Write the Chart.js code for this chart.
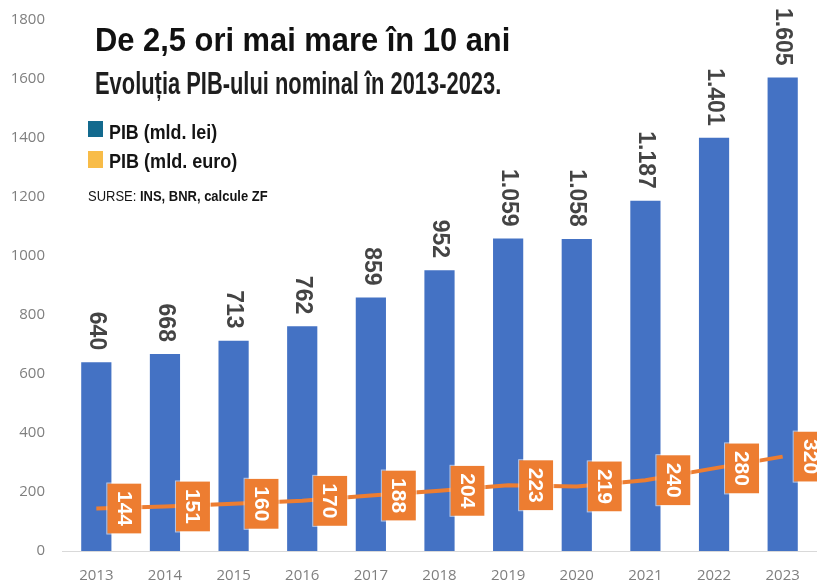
<!DOCTYPE html>
<html><head><meta charset="utf-8">
<script src="https://cdn.jsdelivr.net/npm/chart.js@4.4.1/dist/chart.umd.min.js"></script>
<style>
html,body{margin:0;padding:0;background:#fff;}
#wrap{position:relative;width:817px;height:584px;overflow:hidden;}
canvas{position:absolute;left:0;top:0;}
.t{position:absolute;white-space:nowrap;line-height:1;transform-origin:0 0;font-family:"Liberation Sans",Arial,sans-serif;color:#141414;display:inline-block;}
.sq{position:absolute;width:15px;height:16px;}
</style></head><body>
<div id="wrap">
<canvas id="c" width="817" height="584"></canvas>
<div class="t fit" data-w="415" style="left:95px;top:22px;font-size:34px;font-weight:bold;color:#111;">De 2,5 ori mai mare în 10 ani</div>
<div class="t fit" data-w="406" style="left:95px;top:68px;font-size:31px;font-weight:bold;color:#1e1e1e;">Evoluția PIB-ului nominal în 2013-2023.</div>
<div class="sq" style="left:88px;top:121px;background:#136A8E;"></div>
<div class="t fit" data-w="108" style="left:109px;top:121px;font-size:21px;font-weight:bold;">PIB (mld. lei)</div>
<div class="sq" style="left:88px;top:151px;background:#F8BC48;height:17px;"></div>
<div class="t fit" data-w="128" style="left:109px;top:150px;font-size:21px;font-weight:bold;">PIB (mld. euro)</div>
<div class="t fit" data-w="180" style="left:88px;top:188px;font-size:15px;font-weight:bold;"><span style="font-weight:normal">SURSE:</span> INS, BNR, calcule ZF</div>
</div>
<script>
const years = ['2013','2014','2015','2016','2017','2018','2019','2020','2021','2022','2023'];
const pibLei = [640, 668, 713, 762, 859, 952, 1059, 1058, 1187, 1401, 1605];
const pibEuro = [144, 151, 160, 170, 188, 204, 223, 219, 240, 280, 320];
const yMin = 0, yMax = 1800, yStep = 200;

function fmt(n){
  return n >= 1000 ? Math.floor(n/1000) + '.' + String(n % 1000).padStart(3,'0') : String(n);
}

const labelPlugin = {
  id: 'valueLabels',
  afterDatasetsDraw(chart){
    const ctx = chart.ctx;
    ctx.save();
    const barMeta = chart.getDatasetMeta(0);
    barMeta.data.forEach((bar, i) => {
      ctx.save();
      ctx.translate(bar.x, bar.y - 12);
      ctx.rotate(Math.PI/2);
      ctx.font = 'bold 23px "Liberation Sans", Arial, sans-serif';
      ctx.fillStyle = '#444444';
      ctx.textAlign = 'right';
      ctx.textBaseline = 'middle';
      ctx.fillText(fmt(pibLei[i]), 0, 0);
      ctx.restore();
    });
    const lineMeta = chart.getDatasetMeta(1);
    lineMeta.data.forEach((pt, i) => {
      ctx.save();
      ctx.translate(pt.x + 28, pt.y);
      ctx.rotate(Math.PI/2);
      ctx.fillStyle = '#ED7D31';
      ctx.fillRect(-25, -17, 50, 34);
      ctx.strokeStyle = 'rgba(255,255,255,0.6)';
      ctx.lineWidth = 1;
      ctx.strokeRect(-25.5, -17.5, 51, 35);
      ctx.fillStyle = '#ffffff';
      ctx.font = 'bold 21px "Liberation Sans", Arial, sans-serif';
      ctx.textAlign = 'center';
      ctx.textBaseline = 'middle';
      ctx.fillText(String(pibEuro[i]), 0, 1);
      ctx.restore();
    });
    ctx.restore();
  }
};

const tickFont = {family: '"Open Sans", "DejaVu Sans", sans-serif', size: 15};

new Chart(document.getElementById('c'), {
  data: {
    labels: years,
    datasets: [
      {type: 'bar', label: 'PIB (mld. lei)', data: pibLei, backgroundColor: '#4472C4', barPercentage: 0.44, categoryPercentage: 1, order: 1},
      {type: 'line', label: 'PIB (mld. euro)', data: pibEuro, borderColor: '#ED7D31', borderWidth: 4, pointRadius: 0, tension: 0, fill: false, order: 0}
    ]
  },
  options: {
    responsive: false, animation: false, devicePixelRatio: 1,
    layout: {padding: {top: 20, right: 0, bottom: 0, left: 0}},
    plugins: {legend: {display: false}, tooltip: {enabled: false}},
    scales: {
      x: {
        grid: {display: false, drawTicks: false},
        border: {display: true, color: '#d9d9d9', width: 1},
        ticks: {color: '#7f7f7f', font: tickFont, padding: 16, maxRotation: 0, autoSkip: false},
        afterFit(s){ s.height = 33; }
      },
      y: {
        min: yMin, max: yMax,
        grid: {display: false, drawTicks: false},
        border: {display: false},
        ticks: {stepSize: yStep, color: '#7f7f7f', font: tickFont, padding: 17, callback: v => String(v)},
        afterFit(s){ s.width = 62; s.paddingTop = 0; s.paddingBottom = 0; }
      }
    }
  },
  plugins: [labelPlugin]
});

document.querySelectorAll('.fit').forEach(el => {
  const w = el.offsetWidth;
  const target = parseFloat(el.dataset.w);
  el.style.transform = 'scaleX(' + (target / w) + ')';
});
</script>
</body></html>
